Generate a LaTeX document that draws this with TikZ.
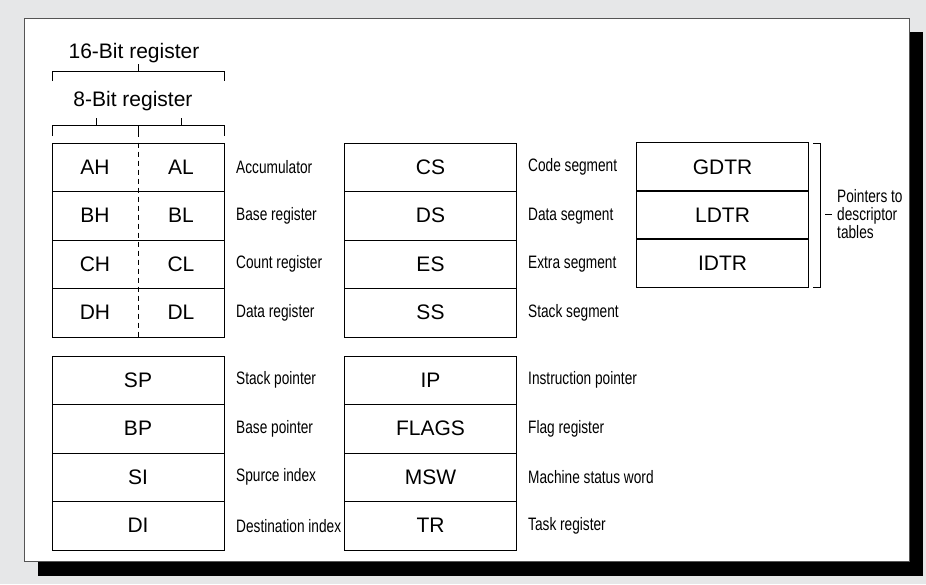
\documentclass[tikz,border=0pt]{standalone}
\usepackage{fontspec}
\setmainfont{Liberation Sans}
\newfontfamily\narrowfont[FakeStretch=0.76]{Liberation Sans}
\definecolor{bggrey}{HTML}{E6E7E8}
\definecolor{panelline}{HTML}{555555}
\begin{document}
\begin{tikzpicture}[x=1pt,y=-1pt,
  reg/.style={draw=black, line width=1pt, minimum width=172pt, minimum height=48.5pt, inner sep=0pt, font=\fontsize{21}{25}\selectfont},
  regtext/.style={inner sep=0pt, font=\fontsize{21}{25}\selectfont},
  lbl/.style={anchor=west, inner sep=0pt, align=left, font=\narrowfont\fontsize{18}{17.7}\selectfont},
  head/.style={inner sep=0pt, anchor=base, font=\fontsize{21}{25}\selectfont},
  brk/.style={line width=1pt},
  halfline/.style={line width=1pt, dash pattern=on 5pt off 4pt}]
% background and panel
\fill[bggrey] (0,0) rectangle (926,584);
\fill[black] (38,32) rectangle (923,576);
\filldraw[fill=white, draw=panelline, line width=0.8pt] (24,18) rectangle (909,561);
\useasboundingbox (0,0) rectangle (926,584);

% headers and brackets
\node[head] (h16) at (134,58) {16-Bit register};
\node[head] (h8) at (133,106) {8-Bit register};
\draw[brk] (52,81) -- (52,71) -- (224,71) -- (224,81);
\draw[brk] (138,71) -- (138,64);
\draw[brk] (52,136) -- (52,125) -- (224,125) -- (224,136);
\draw[brk] (138,125) -- (138,137);
\draw[brk] (96,125) -- (96,118);
\draw[brk] (181,125) -- (181,118);

% upper left block (8-bit halves)
\node[reg] (arow) at (138,167.25) {};
\node[reg] (brow) at (138,215.75) {};
\node[reg] (crow) at (138,264.25) {};
\node[reg] (drow) at (138,312.75) {};
\draw[halfline] (arow.north) -- (drow.south);
\node[regtext] (ah) at (95,167.25) {AH};
\node[regtext] (al) at (181,167.25) {AL};
\node[regtext] (bh) at (95,215.75) {BH};
\node[regtext] (bl) at (181,215.75) {BL};
\node[regtext] (ch) at (95,264.25) {CH};
\node[regtext] (cl) at (181,264.25) {CL};
\node[regtext] (dh) at (95,312.75) {DH};
\node[regtext] (dl) at (181,312.75) {DL};
\node[lbl] (lacc) at (236,167.25) {Accumulator};
\node[lbl] (lbase) at (236,215.75) {Base register};
\node[lbl] (lcount) at (236,264.25) {Count register};
\node[lbl] (ldata) at (236,312.75) {Data register};

% segment registers
\node[reg] (cs) at (430.5,167.25) {CS};
\node[reg] (ds) at (430.5,215.75) {DS};
\node[reg] (es) at (430.5,264.25) {ES};
\node[reg] (ss) at (430.5,312.75) {SS};
\node[lbl] (lcs) at (528,167.25) {Code segment};
\node[lbl] (lds) at (528,215.75) {Data segment};
\node[lbl] (les) at (528,264.25) {Extra segment};
\node[lbl] (lss) at (528,312.75) {Stack segment};

% descriptor table registers
\node[reg] (gdtr) at (722.5,167) {GDTR};
\node[reg] (ldtr) at (722.5,215) {LDTR};
\node[reg] (idtr) at (722.5,263) {IDTR};
\draw[brk] (813,143) -- (820,143) -- (820,287) -- (813,287);
\draw[brk] (825,214) -- (832,214);
\node[lbl] (lptr) at (837,214) {Pointers to\\descriptor\\tables};

% pointer / index registers
\node[reg] (sp) at (138,380.25) {SP};
\node[reg] (bp) at (138,428.75) {BP};
\node[reg] (si) at (138,477.25) {SI};
\node[reg] (di) at (138,525.75) {DI};
\node[lbl] (lsp) at (236,380.25) {Stack pointer};
\node[lbl] (lbp) at (236,428.75) {Base pointer};
\node[lbl] (lsi) at (236,477.25) {Spurce index};
\node[lbl] (ldi) at (236,525.75) {Destination index};

% control registers
\node[reg] (ip) at (430.5,380.25) {IP};
\node[reg] (flags) at (430.5,428.75) {FLAGS};
\node[reg] (msw) at (430.5,477.25) {MSW};
\node[reg] (tr) at (430.5,525.75) {TR};
\node[lbl] (lip) at (528,380.25) {Instruction pointer};
\node[lbl] (lflags) at (528,428.75) {Flag register};
\node[lbl] (lmsw) at (528,477.25) {Machine status word};
\node[lbl] (ltr) at (528,525.75) {Task register};
\end{tikzpicture}
\end{document}
